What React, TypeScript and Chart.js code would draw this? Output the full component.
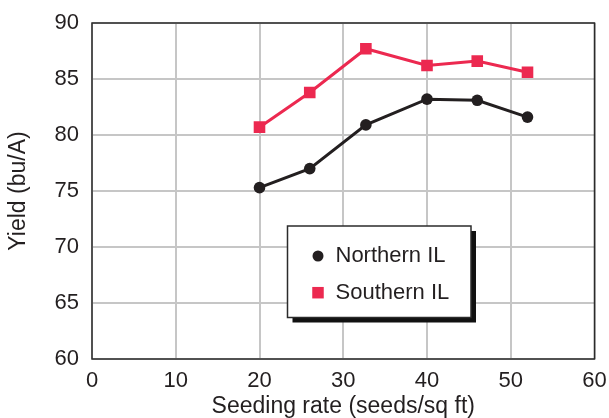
import React, { useEffect, useRef } from "react";
import { Chart, registerables } from "chart.js";

Chart.register(...registerables);

const seedingRates = [20, 26, 32.7, 40, 46, 52];
const northernYield = [75.3, 77.0, 80.9, 83.2, 83.1, 81.6];
const southernYield = [80.7, 83.8, 87.7, 86.2, 86.6, 85.6];
const seriesNames = ["Northern IL", "Southern IL"];
const xTitle = "Seeding rate (seeds/sq ft)";
const yTitle = "Yield (bu/A)";

const RED = "#ec2950";
const BLACK = "#231f20";
const TEXT = "#231f20";
const FONT = "'Liberation Sans', Arial, Helvetica, sans-serif";

const frameAndLegend = {
  id: "frameAndLegend",
  beforeDatasetsDraw(chart: any) {
    const { ctx, chartArea: ca } = chart;
    ctx.save();
    ctx.strokeStyle = "#2b2b2b";
    ctx.lineWidth = 1.5;
    ctx.strokeRect(ca.left, ca.top, ca.right - ca.left, ca.bottom - ca.top);
    ctx.restore();
  },
  afterDatasetsDraw(chart: any) {
    const { ctx, chartArea: ca } = chart;
    const bx = ca.left + 195.5;
    const by = ca.top + 203;
    const bw = 183.5;
    const bh = 91.5;
    ctx.save();
    ctx.fillStyle = "#111";
    ctx.fillRect(bx + 5, by + 5, bw, bh);
    ctx.fillStyle = "#fff";
    ctx.fillRect(bx, by, bw, bh);
    ctx.strokeStyle = "#2b2b2b";
    ctx.lineWidth = 1.5;
    ctx.strokeRect(bx, by, bw, bh);
    ctx.fillStyle = BLACK;
    ctx.beginPath();
    ctx.arc(bx + 30.5, by + 30, 5.5, 0, Math.PI * 2);
    ctx.fill();
    ctx.fillStyle = RED;
    ctx.fillRect(bx + 30.5 - 5.75, by + 66.7 - 5.75, 11.5, 11.5);
    ctx.fillStyle = TEXT;
    ctx.font = `22px ${FONT}`;
    ctx.textBaseline = "middle";
    ctx.textAlign = "left";
    ctx.fillText(seriesNames[0], bx + 48, by + 30);
    ctx.fillText(seriesNames[1], bx + 48, by + 66.5);
    ctx.restore();
  },
};

export default function App() {
  const canvasRef = useRef<HTMLCanvasElement | null>(null);

  useEffect(() => {
    if (!canvasRef.current) return;
    const chart = new Chart(canvasRef.current, {
      type: "scatter",
      data: {
        datasets: [
          {
            label: seriesNames[0],
            data: seedingRates.map((x, i) => ({ x, y: northernYield[i] })),
            showLine: true,
            borderColor: BLACK,
            backgroundColor: BLACK,
            borderWidth: 3,
            pointStyle: "circle",
            pointRadius: 5.8,
            pointBorderWidth: 0,
            pointHoverRadius: 5.8,
          },
          {
            label: seriesNames[1],
            data: seedingRates.map((x, i) => ({ x, y: southernYield[i] })),
            showLine: true,
            borderColor: RED,
            backgroundColor: RED,
            borderWidth: 3,
            pointStyle: "rect",
            pointRadius: 8.2,
            pointBorderWidth: 0,
            pointHoverRadius: 8.2,
          },
        ],
      },
      options: {
        animation: false,
        responsive: true,
        maintainAspectRatio: false,
        layout: { padding: { top: 23, right: 14.5, left: 0, bottom: 0 } },
        plugins: {
          legend: { display: false },
          tooltip: { enabled: false },
        },
        scales: {
          x: {
            type: "linear",
            min: 0,
            max: 60,
            ticks: {
              stepSize: 10,
              color: TEXT,
              font: { size: 22, family: FONT },
              padding: 9,
              maxRotation: 0,
            },
            grid: { color: "#c6c6c6", lineWidth: 2, drawTicks: false },
            border: { display: false },
            title: {
              display: true,
              text: xTitle,
              color: TEXT,
              font: { size: 23, family: FONT, lineHeight: 1 },
              padding: { top: 0, bottom: 0 },
            },
            afterFit(scale: any) {
              scale.height = 59;
              scale.paddingLeft = 0;
              scale.paddingRight = 0;
            },
          },
          y: {
            type: "linear",
            min: 60,
            max: 90,
            ticks: {
              stepSize: 5,
              color: TEXT,
              font: { size: 22, family: FONT },
              padding: 13,
            },
            grid: { color: "#c6c6c6", lineWidth: 2, drawTicks: false },
            border: { display: false },
            title: {
              display: true,
              text: yTitle,
              color: TEXT,
              font: { size: 23, family: FONT, lineHeight: 1 },
              padding: { top: 7.5, bottom: 0 },
            },
            afterFit(scale: any) {
              scale.width = 92;
              scale.paddingTop = 0;
              scale.paddingBottom = 0;
            },
          },
        },
      },
      plugins: [frameAndLegend],
    });
    return () => chart.destroy();
  }, []);

  return (
    <div style={{ position: "fixed", left: 0, top: 0, width: 609, height: 418, background: "#fff" }}>
      <canvas ref={canvasRef} />
    </div>
  );
}
